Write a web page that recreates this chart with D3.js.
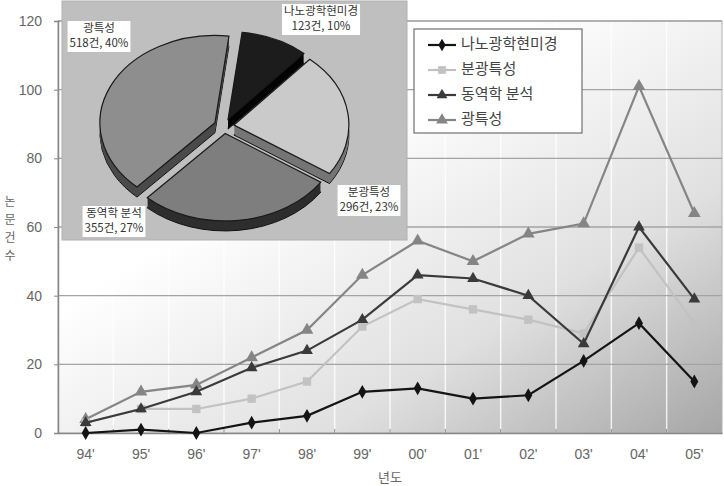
<!DOCTYPE html>
<html>
<head>
<meta charset="utf-8">
<script src="https://cdn.jsdelivr.net/npm/d3@7"></script>
<style>
  body { margin: 0; background: #fff; }
  svg { display: block; font-family: "Liberation Sans", Arial, sans-serif; }
  .kr { font-family: "Noto Sans CJK KR", "Noto Sans", sans-serif; }
</style>
</head>
<body>
<div id="chart"></div>
<script>
// Year categories and series values (papers per year).
const years = ["94'", "95'", "96'", "97'", "98'", "99'", "00'", "01'", "02'", "03'", "04'", "05'"];
const nano = [0, 1, 0, 3, 5, 12, 13, 10, 11, 21, 32, 15];
const spectral = [3, 7, 7, 10, 15, 31, 39, 36, 33, 29, 54, 32];
const dynamics = [3, 7, 12, 19, 24, 33, 46, 45, 40, 26, 60, 39];
const optical = [4, 12, 14, 22, 30, 46, 56, 50, 58, 61, 101, 64];
const seriesNames = ["나노광학현미경", "분광특성", "동역학 분석", "광특성"];
const yTicks = [0, 20, 40, 60, 80, 100, 120];

// Inset pie values.
const pieNames = ["나노광학현미경", "분광특성", "동역학 분석", "광특성"];
const pieCounts = [123, 296, 355, 518];
const piePercents = [10, 23, 27, 40];

const w = 724, h = 486;
const plotLeft = 58, plotRight = 722, plotTop = 21, plotBottom = 433;

const svg = d3.select("#chart").append("svg")
    .attr("width", w)
    .attr("height", h);

const defs = svg.append("defs");
const grad = defs.append("linearGradient")
    .attr("id", "bg")
    .attr("x1", "0").attr("y1", "0").attr("x2", "1").attr("y2", "1");
grad.append("stop").attr("offset", "0.35").attr("stop-color", "#ffffff");
grad.append("stop").attr("offset", "0.7").attr("stop-color", "#e0e0e0");
grad.append("stop").attr("offset", "1").attr("stop-color", "#a6a6a6");

const x = d3.scaleBand().domain(years).range([plotLeft, plotRight]);
const y = d3.scaleLinear().domain([0, 120]).range([plotBottom, plotTop]);

// Plot area background.
svg.append("rect")
    .attr("x", plotLeft).attr("y", plotTop)
    .attr("width", plotRight - plotLeft).attr("height", plotBottom - plotTop)
    .attr("fill", "url(#bg)")
    .attr("stroke", "#b0b0b0");

// Faint vertical lines at category boundaries.
svg.append("g").selectAll("line")
    .data(years.slice(1))
    .join("line")
    .attr("x1", d => x(d)).attr("x2", d => x(d))
    .attr("y1", plotTop).attr("y2", plotBottom)
    .attr("stroke", "#ffffff")
    .attr("stroke-opacity", 0.8)
    .attr("stroke-width", 1.5);

// Horizontal gridlines.
svg.append("g").selectAll("line")
    .data(yTicks.slice(1))
    .join("line")
    .attr("x1", plotLeft).attr("x2", plotRight)
    .attr("y1", d => y(d)).attr("y2", d => y(d))
    .attr("stroke", "#a4a4a4")
    .attr("stroke-width", 1.4);

// Y axis.
const yAxis = d3.axisLeft(y).tickValues(yTicks).tickSize(4).tickPadding(12);
const gy = svg.append("g")
    .attr("transform", `translate(${plotLeft},0)`)
    .call(yAxis);
gy.select(".domain").attr("stroke", "#888").attr("stroke-width", 1.5);
gy.selectAll(".tick line").attr("stroke", "#888");
gy.selectAll("text").attr("fill", "#666").attr("font-size", 14);

// X axis.
const xAxis = d3.axisBottom(x).tickSize(0).tickPadding(16);
const gx = svg.append("g")
    .attr("transform", `translate(0,${plotBottom})`)
    .call(xAxis);
gx.select(".domain").attr("stroke", "#888").attr("stroke-width", 1.5);
gx.selectAll("text").attr("fill", "#666").attr("font-size", 14);
// small tick marks between categories, pointing up
svg.append("g").selectAll("line")
    .data(years.slice(1))
    .join("line")
    .attr("x1", d => x(d)).attr("x2", d => x(d))
    .attr("y1", plotBottom - 4).attr("y2", plotBottom)
    .attr("stroke", "#888");

// Axis titles.
svg.append("text")
    .attr("class", "kr")
    .attr("x", 390).attr("y", 482)
    .attr("text-anchor", "middle")
    .attr("font-size", 13)
    .attr("fill", "#666")
    .text("년도");

svg.append("g").selectAll("text")
    .data(Array.from("논문건수"))
    .join("text")
    .attr("class", "kr")
    .attr("x", 10)
    .attr("y", (d, i) => 203 + i * 18)
    .attr("text-anchor", "middle")
    .attr("dominant-baseline", "middle")
    .attr("font-size", 12)
    .attr("fill", "#666")
    .text(d => d);

// Series lines with markers.
const series = [
    { name: seriesNames[0], values: nano, color: "#141414", marker: d3.symbolDiamond, size: 55 },
    { name: seriesNames[1], values: spectral, color: "#c2c2c2", marker: d3.symbolSquare, size: 70 },
    { name: seriesNames[2], values: dynamics, color: "#3a3a3a", marker: d3.symbolTriangle, size: 60 },
    { name: seriesNames[3], values: optical, color: "#858585", marker: d3.symbolTriangle, size: 70 }
];

const line = d3.line()
    .x((d, i) => x(years[i]) + x.bandwidth() / 2)
    .y(d => y(d));

const drawOrder = [3, 1, 2, 0];
drawOrder.forEach(k => {
    const s = series[k];
    const g = svg.append("g");
    g.append("path")
        .datum(s.values)
        .attr("d", line)
        .attr("fill", "none")
        .attr("stroke", s.color)
        .attr("stroke-width", 2.2);
    g.selectAll("path.m")
        .data(s.values)
        .join("path")
        .attr("class", "m")
        .attr("d", d3.symbol(s.marker, s.size))
        .attr("transform", (d, i) => `translate(${x(years[i]) + x.bandwidth() / 2},${y(d)})`)
        .attr("fill", s.color);
});

// Legend.
const legend = svg.append("g");
legend.append("rect")
    .attr("x", 414).attr("y", 29)
    .attr("width", 168).attr("height", 104)
    .attr("fill", "#fff")
    .attr("stroke", "#707070")
    .attr("stroke-width", 1.2);
series.forEach((s, i) => {
    const ly = 45 + i * 25;
    legend.append("line")
        .attr("x1", 428).attr("x2", 456)
        .attr("y1", ly).attr("y2", ly)
        .attr("stroke", s.color)
        .attr("stroke-width", 2.2);
    legend.append("path")
        .attr("d", d3.symbol(s.marker, s.size * 0.85))
        .attr("transform", `translate(442,${ly})`)
        .attr("fill", s.color);
    legend.append("text")
        .attr("class", "kr")
        .attr("x", 461).attr("y", ly)
        .attr("dominant-baseline", "middle")
        .attr("font-size", 15)
        .attr("fill", "#444")
        .text(s.name);
});

// Inset: exploded 3D pie.
const inset = svg.append("g");
inset.append("rect")
    .attr("x", 62).attr("y", 1)
    .attr("width", 345).attr("height", 239)
    .attr("fill", "#bfbfbf")
    .attr("stroke", "#b0b0b0");

const pcx = 224, pcy = 126, rx = 115, k = 0.76, depth = 10, explode = 10;
const topColors = ["#1c1c1c", "#cacaca", "#7e7e7e", "#8e8e8e"];
const sideColors = ["#050505", "#767676", "#2e2e2e", "#4a4a4a"];

const pie = d3.pie().sort(null)
    .startAngle(7 * Math.PI / 180)
    .endAngle(7 * Math.PI / 180 + 2 * Math.PI);
const arcs = pie(pieCounts);
const arc = d3.arc().innerRadius(0).outerRadius(rx);

const offsets = arcs.map(a => {
    const mid = (a.startAngle + a.endAngle) / 2;
    return [Math.sin(mid) * explode, -Math.cos(mid) * explode * k];
});

// side walls first
arcs.forEach((a, i) => {
    for (let d = depth; d >= 1; d--) {
        inset.append("path")
            .attr("d", arc(a))
            .attr("transform", `translate(${pcx + offsets[i][0]},${pcy + offsets[i][1] + d}) scale(1,${k})`)
            .attr("fill", sideColors[i])
            .attr("stroke", "#111")
            .attr("stroke-width", d === depth ? 1 : 0)
            .attr("vector-effect", "non-scaling-stroke");
    }
});
// top faces
arcs.forEach((a, i) => {
    inset.append("path")
        .attr("d", arc(a))
        .attr("transform", `translate(${pcx + offsets[i][0]},${pcy + offsets[i][1]}) scale(1,${k})`)
        .attr("fill", topColors[i])
        .attr("stroke", "#1a1a1a")
        .attr("stroke-width", 1.2)
        .attr("vector-effect", "non-scaling-stroke");
});

// Pie data labels.
const labelPos = [[321, 19], [369, 200], [114, 221], [99, 36]];
pieNames.forEach((n, i) => {
    const g = inset.append("g").attr("transform", `translate(${labelPos[i][0]},${labelPos[i][1]})`);
    const t1 = g.append("text")
        .attr("class", "kr")
        .attr("y", -7)
        .attr("text-anchor", "middle")
        .attr("dominant-baseline", "middle")
        .attr("font-size", 11.5)
        .attr("fill", "#333")
        .text(n);
    const t2 = g.append("text")
        .attr("class", "kr")
        .attr("y", 8)
        .attr("text-anchor", "middle")
        .attr("dominant-baseline", "middle")
        .attr("font-size", 11.5)
        .attr("fill", "#333")
        .text(`${pieCounts[i]}건, ${piePercents[i]}%`);
    const bw = Math.max(t1.node().getComputedTextLength(), t2.node().getComputedTextLength()) + 4;
    g.insert("rect", "text")
        .attr("x", -bw / 2).attr("y", -15)
        .attr("width", bw).attr("height", 31)
        .attr("fill", "#fff");
});
</script>
</body>
</html>
